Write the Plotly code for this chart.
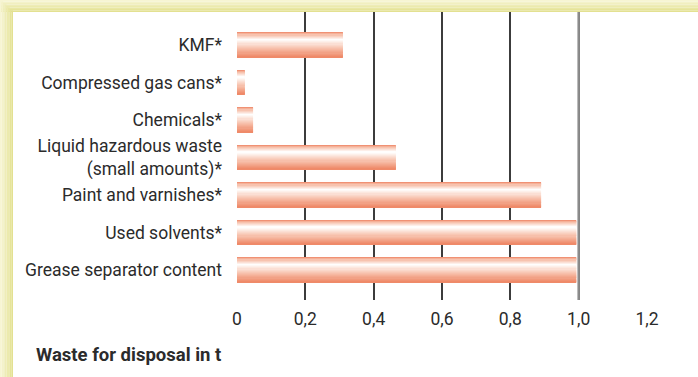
import plotly.graph_objects as go

# Waste for disposal (tonnes), listed top to bottom
categories = [
    "KMF*",
    "Compressed gas cans*",
    "Chemicals*",
    "Liquid hazardous waste<br>(small amounts)*",
    "Paint and varnishes*",
    "Used solvents*",
    "Grease separator content",
]
values = [0.31, 0.023, 0.047, 0.465, 0.89, 0.993, 0.993]

tick_vals = [0, 0.2, 0.4, 0.6, 0.8, 1.0, 1.2]
tick_text = ["0", "0,2", "0,4", "0,6", "0,8", "1,0", "1,2"]

W, H = 698, 377
ML, MR, MT, MB = 237, 51, 12, 77
PW, PH = W - ML - MR, H - MT - MB

TEXT = "#2b2b2b"
FONT = "Roboto"
FS = 17.5


def lerp(c1, c2, f):
    return tuple(round(a + (b - a) * f) for a, b in zip(c1, c2))


def profile(stops, t):
    for (t0, c0), (t1, c1) in zip(stops, stops[1:]):
        if t0 <= t <= t1:
            return lerp(c0, c1, (t - t0) / (t1 - t0) if t1 > t0 else 0)
    return stops[-1][1]


def rgb(c):
    return "rgb(%d,%d,%d)" % c


# tubular shading across the bar thickness (0 = top edge, 1 = bottom edge)
bar_stops = [
    (0.00, (238, 130, 98)),
    (0.08, (246, 184, 160)),
    (0.30, (255, 255, 255)),
    (0.62, (248, 198, 178)),
    (1.00, (238, 134, 100)),
]

BAR_W = 0.66
N = 22
step = BAR_W / N

fig = go.Figure()
for k in range(N):
    t = (k + 0.5) / N
    fig.add_trace(go.Bar(
        orientation="h",
        y=categories,
        x=values,
        offset=-BAR_W / 2 + k * step,
        width=step * 1.6 if k < N - 1 else step,
        marker=dict(color=rgb(profile(bar_stops, t)), line=dict(width=0)),
        hoverinfo="skip",
        showlegend=False,
    ))


def px_x(px):
    return (px - ML) / PW


def px_y(py):
    return (H - MB - py) / PH


shapes = []
# highlighted reference line at 1.0
shapes.append(dict(type="line", xref="x", yref="paper", x0=1.0, x1=1.0, y0=0, y1=1,
                   line=dict(color="#8c8c8c", width=2.5), layer="above"))

# yellow-green frame along the top and left edges
light = (248, 246, 216)
deep = (226, 224, 140)
nb = 8
top_h, left_w = 12, 13
for i in range(nb):
    c = rgb(lerp(light, deep, (i + 0.5) / nb))
    y0 = i * top_h / nb
    y1 = (i + 1) * top_h / nb
    shapes.append(dict(type="rect", xref="paper", yref="paper",
                       x0=px_x(0), x1=px_x(W), y0=px_y(y1), y1=px_y(y0),
                       fillcolor=c, line=dict(width=0), layer="above"))
for i in range(nb):
    c = rgb(lerp(light, deep, (i + 0.5) / nb))
    x0 = i * left_w / nb
    x1 = (i + 1) * left_w / nb
    shapes.append(dict(type="rect", xref="paper", yref="paper",
                       x0=px_x(x0), x1=px_x(x1), y0=px_y(H), y1=px_y(x0 * top_h / left_w),
                       fillcolor=c, line=dict(width=0), layer="above"))

fig.update_layout(
    width=W, height=H,
    margin=dict(l=ML, r=MR, t=MT, b=MB),
    paper_bgcolor="white",
    plot_bgcolor="white",
    barmode="overlay",
    shapes=shapes,
    font=dict(family=FONT, color=TEXT, size=FS),
    xaxis=dict(
        range=[0, 1.2],
        tickvals=tick_vals,
        ticktext=tick_text,
        showgrid=True,
        gridcolor="#3c3c3c",
        gridwidth=1.5,
        zeroline=False,
        showline=False,
        ticks="",
        ticklabelstandoff=6,
        tickfont=dict(size=FS, color=TEXT),
    ),
    yaxis=dict(
        type="category",
        categoryorder="array",
        categoryarray=categories,
        range=[6.8, -0.88],
        showgrid=False,
        zeroline=False,
        showline=False,
        ticks="",
        ticklabelstandoff=14,
        tickfont=dict(size=FS, color=TEXT),
    ),
    annotations=[dict(
        text="<b>Waste for disposal in t</b>",
        xref="paper", yref="paper",
        x=px_x(34), y=px_y(355),
        xanchor="left", yanchor="middle",
        showarrow=False,
        font=dict(family=FONT, size=18.5, color=TEXT),
    )],
)

fig.write_html("out.html")
